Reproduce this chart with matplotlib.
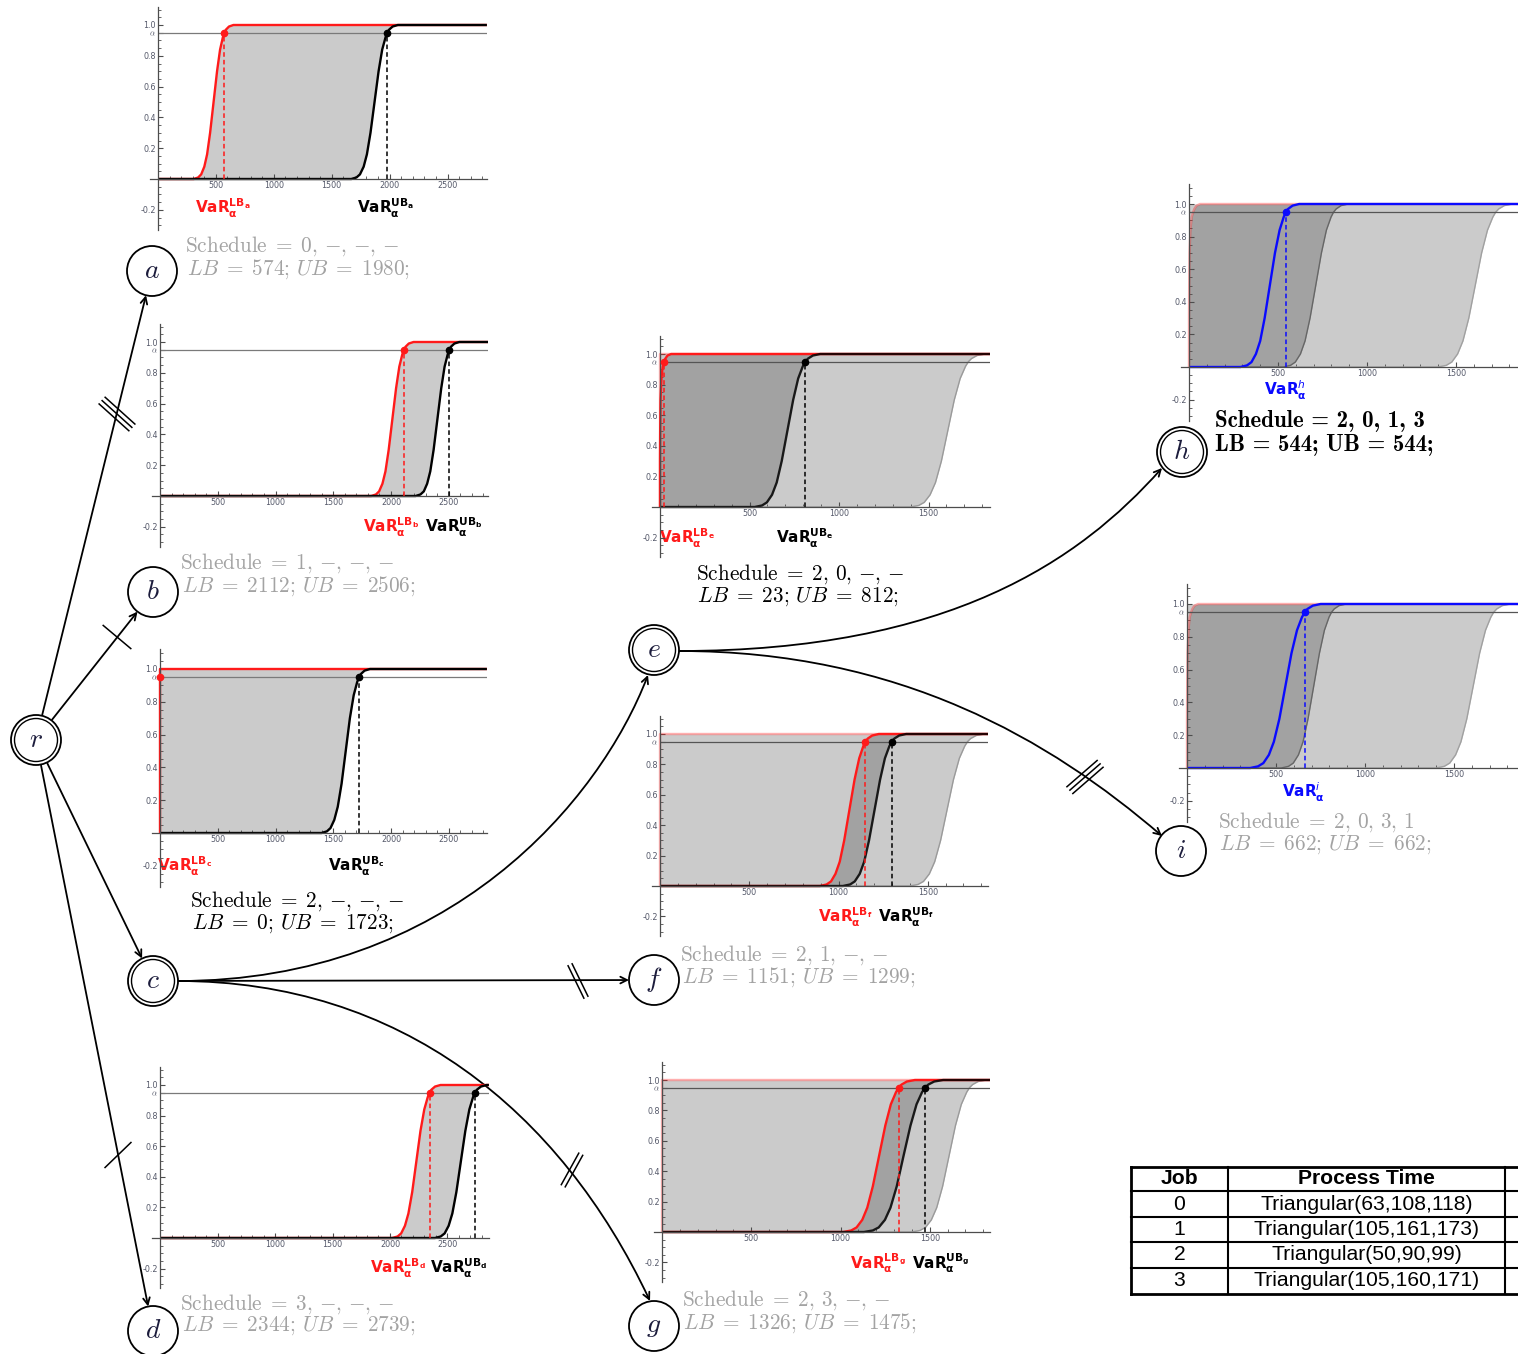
import numpy as np
import matplotlib.pyplot as plt
from matplotlib.patches import Circle, FancyArrowPatch
from matplotlib.path import Path

plt.rcParams['mathtext.fontset'] = 'cm'

p_levels = [0, 0.01, 0.03, 0.08, 0.16, 0.3, 0.5, 0.7, 0.84, 0.92, 0.95, 0.97, 0.99, 1.0]

# x position of each curve at those levels
a_lb = [309, 347, 373, 400, 424, 450, 480, 510, 536, 560, 574, 587, 613, 651]
a_ub = [1669, 1714, 1744, 1776, 1804, 1835, 1870, 1905, 1936, 1965, 1980, 1996, 2026, 2071]
b_lb = [1829, 1870, 1897, 1926, 1952, 1980, 2012, 2044, 2072, 2098, 2112, 2127, 2154, 2195]
b_ub = [2213, 2255, 2284, 2313, 2340, 2369, 2402, 2435, 2464, 2491, 2506, 2520, 2549, 2591]
c_lb = [0, 0, 0, 0, 0, 0, 0, 0, 0, 0, 0, 0, 0, 0]
c_ub = [1398, 1445, 1476, 1509, 1539, 1572, 1608, 1644, 1677, 1707, 1723, 1740, 1771, 1818]
d_lb = [2019, 2066, 2097, 2130, 2160, 2193, 2229, 2265, 2298, 2328, 2344, 2361, 2392, 2439]
d_ub = [2391, 2441, 2475, 2510, 2542, 2577, 2616, 2655, 2690, 2722, 2739, 2757, 2791, 2841]
e_lb = [0, 0, 0, 0, 0, 0, 1, 3, 8, 15, 23, 30, 42, 62]
e_ub = [529, 570, 597, 626, 652, 680, 712, 744, 772, 798, 812, 827, 854, 895]
f_lb = [896, 933, 958, 983, 1007, 1032, 1061, 1090, 1116, 1139, 1151, 1164, 1189, 1226]
f_ub = [1025, 1065, 1091, 1119, 1144, 1171, 1202, 1233, 1260, 1285, 1299, 1313, 1340, 1379]
g_lb = [1015, 1060, 1090, 1122, 1150, 1181, 1216, 1251, 1282, 1311, 1326, 1342, 1372, 1417]
g_ub = [1131, 1181, 1214, 1249, 1280, 1315, 1353, 1392, 1426, 1457, 1475, 1492, 1525, 1575]
h_cdf = [289, 326, 351, 376, 400, 425, 454, 483, 509, 532, 544, 557, 582, 619]
i_cdf = [355, 399, 429, 460, 488, 519, 553, 587, 618, 646, 662, 677, 707, 751]

alpha_level = 0.95

node_names = ['a', 'b', 'c', 'd', 'e', 'f', 'g', 'h', 'i']
schedules = [['0', '-', '-', '-'], ['1', '-', '-', '-'], ['2', '-', '-', '-'],
             ['3', '-', '-', '-'], ['2', '0', '-', '-'], ['2', '1', '-', '-'],
             ['2', '3', '-', '-'], ['2', '0', '1', '3'], ['2', '0', '3', '1']]
lb_values = [574, 2112, 0, 2344, 23, 1151, 1326, 544, 662]
ub_values = [1980, 2506, 1723, 2739, 812, 1299, 1475, 544, 662]

jobs = [0, 1, 2, 3]
tri_low = [63, 105, 50, 105]
tri_mode = [108, 161, 90, 160]
tri_high = [118, 173, 99, 171]

W, H = 1518, 1354
fig = plt.figure(figsize=(W / 100, H / 100), dpi=100)
bg = fig.add_axes([0, 0, 1, 1])
bg.set_xlim(0, W)
bg.set_ylim(H, 0)
bg.axis('off')

GRAY_TXT = '#a3a3a3'


def make_inset(ox, oy, sx, sy, xmax, xticks):
    pad = 8
    top = oy - 1.12 * sy
    h = 1.45 * sy
    w = pad + xmax * sx
    ax = fig.add_axes([(ox - pad) / W, 1 - (top + h) / H, w / W, h / H])
    ax.set_xlim(-pad / sx, xmax)
    ax.set_ylim(-0.33, 1.12)
    ax.patch.set_alpha(0)
    ax.spines['top'].set_visible(False)
    ax.spines['right'].set_visible(False)
    ax.spines['left'].set_position(('data', 0))
    ax.spines['bottom'].set_position(('data', 0))
    for s in ['left', 'bottom']:
        ax.spines[s].set_color('#4d4d4d')
        ax.spines[s].set_linewidth(0.9)
    ax.set_xticks(xticks)
    ax.set_xticklabels([str(t) for t in xticks])
    ax.set_xticks(np.arange(100, xmax, 100), minor=True)
    ax.set_yticks([-0.2, 0.2, 0.4, 0.6, 0.8, alpha_level, 1.0])
    ax.set_yticklabels(['-0.2', '0.2', '0.4', '0.6', '0.8', r'$\alpha$', '1.0'])
    ax.set_yticks(np.arange(-0.3, 1.11, 0.05), minor=True)
    ax.tick_params(which='both', direction='in', labelsize=5.8,
                   labelcolor='#55596a', color='#4d4d4d', pad=1.5)
    ax.tick_params(which='major', length=3.5, width=0.8)
    ax.tick_params(which='minor', length=2, width=0.6)
    return ax


def cdf_line(ax, xs, xmax, **kw):
    ax.plot([0] + xs + [xmax], [0] + p_levels + [1], solid_capstyle='butt',
            solid_joinstyle='round', **kw)


def var_mark(ax, x, color):
    ax.vlines(x, 0, alpha_level, colors=color, linestyles=(0, (3, 2)), lw=1.1)
    ax.plot(x, alpha_level, 'o', color=color, ms=4.5, zorder=5)


def var_label(x, y, sup, sub, color):
    if sub:
        s = r'$\mathbf{VaR}_{\mathbf{\alpha}}^{\mathbf{%s}_{\mathbf{%s}}}$' % (sup, sub)
    else:
        s = r'$\mathbf{VaR}_{\mathbf{\alpha}}^{%s}$' % sup
    bg.text(x, y, s, color=color, fontsize=11, math_fontfamily='dejavusans',
            ha='left', va='center')


LIGHT = '#cbcbcb'
DARK = '#a2a2a2'
X_LONG = [500, 1000, 1500, 2000, 2500]
X_SHORT = [500, 1000, 1500]

# ---- first level: a, b, c, d ----
first = [('a', (158, 179, 0.1158, 154, 2840), a_lb, a_ub, (195, 208), (357, 208)),
         ('b', (160, 496, 0.1155, 154, 2840), b_lb, b_ub, (363, 527), (425, 527)),
         ('c', (160, 833, 0.1155, 164, 2830), c_lb, c_ub, (157, 866), (328, 866)),
         ('d', (160, 1238, 0.1150, 153, 2860), d_lb, d_ub, (370, 1268), (430, 1268))]
for name, lay, lb, ub, lpos, upos in first:
    k = node_names.index(name)
    xmax = lay[4]
    ax = make_inset(*lay, X_LONG)
    ax.fill_betweenx(p_levels, lb, ub, color=LIGHT, lw=0)
    ax.hlines(alpha_level, 0, xmax, color='#7a7a7a', lw=0.9)
    cdf_line(ax, lb, xmax, color='#ff1a1a', lw=1.7)
    cdf_line(ax, ub, xmax, color='black', lw=1.7)
    var_mark(ax, lb_values[k], '#ff1a1a')
    var_mark(ax, ub_values[k], 'black')
    var_label(*lpos, 'LB', name, '#ff1a1a')
    var_label(*upos, 'UB', name, 'black')

# ---- second level: e, f, g (parent c shown behind) ----
second = [('e', (660, 507, 0.179, 153, 1845), e_lb, e_ub, (659, 538), (776, 538)),
          ('f', (660, 886, 0.1785, 152, 1840), f_lb, f_ub, (818, 917), (878, 917)),
          ('g', (662, 1232, 0.1785, 152, 1840), g_lb, g_ub, (850, 1263), (912, 1263))]
for name, lay, lb, ub, lpos, upos in second:
    k = node_names.index(name)
    xmax = lay[4]
    ax = make_inset(*lay, X_SHORT)
    ax.fill_betweenx(p_levels, c_lb, c_ub, color=LIGHT, lw=0)
    ax.fill_betweenx(p_levels, lb, ub, color=DARK, lw=0)
    cdf_line(ax, c_ub, xmax, color='#9a9a9a', lw=1.0)
    cdf_line(ax, c_lb, xmax, color='#ff1a1a', lw=1.7, alpha=0.35)
    ax.hlines(alpha_level, 0, xmax, color='#555555', lw=0.9)
    cdf_line(ax, lb, xmax, color='#ff1a1a', lw=1.7)
    cdf_line(ax, ub, xmax, color='black', lw=1.7, alpha=0.85)
    var_mark(ax, lb_values[k], '#ff1a1a')
    var_mark(ax, ub_values[k], 'black')
    var_label(*lpos, 'LB', name, '#ff1a1a')
    var_label(*upos, 'UB', name, 'black')

# ---- leaves: h, i (parents e and c shown behind) ----
leaves = [('h', (1189, 367, 0.178, 163, 1860), h_cdf, (1264, 390)),
          ('i', (1187, 768, 0.178, 164, 1860), i_cdf, (1282, 792))]
for name, lay, cdf, lpos in leaves:
    k = node_names.index(name)
    xmax = lay[4]
    ax = make_inset(*lay, X_SHORT)
    ax.fill_betweenx(p_levels, c_lb, c_ub, color=LIGHT, lw=0)
    ax.fill_betweenx(p_levels, e_lb, e_ub, color=DARK, lw=0)
    cdf_line(ax, c_ub, xmax, color='#a0a0a0', lw=1.0)
    cdf_line(ax, e_ub, xmax, color='#666666', lw=1.0)
    cdf_line(ax, e_lb, xmax, color='#ff1a1a', lw=1.7, alpha=0.35)
    ax.hlines(alpha_level, 0, xmax, color='#555555', lw=0.9)
    cdf_line(ax, cdf, xmax, color='#0a0aff', lw=1.7)
    var_mark(ax, lb_values[k], '#0a0aff')
    var_label(*lpos, name, None, '#0a0aff')

# ---- schedule / bound texts ----
text_pos = {'a': (185, 246, 187, 269), 'b': (180, 563, 182, 586),
            'c': (190, 901, 192, 924), 'd': (180, 1304, 182, 1326),
            'e': (696, 574, 697, 597), 'f': (680, 955, 682, 977),
            'g': (682, 1300, 683, 1323), 'h': (1215, 421, 1215, 445),
            'i': (1218, 822, 1219, 845)}
for k, name in enumerate(node_names):
    x1, y1, x2, y2 = text_pos[name]
    if name == 'h':
        s1 = 'Schedule = ' + ', '.join(schedules[k])
        s2 = 'LB = %d; UB = %d;' % (lb_values[k], ub_values[k])
        bg.text(x1, y1, s1, color='black', fontsize=16.5, family='cmb10', ha='left', va='center')
        bg.text(x2, y2, s2, color='black', fontsize=16.5, family='cmb10', ha='left', va='center')
        continue
    parts = [r'\mathrm{%s}' % v if v != '-' else r'\mathrm{-}' for v in schedules[k]]
    s1 = r'$\mathrm{Schedule}\;=\;' + r',\,'.join(parts) + '$'
    s2 = r'$LB\;=\;%d;\,UB\;=\;%d;$' % (lb_values[k], ub_values[k])
    col = 'black' if name in ('c', 'e') else GRAY_TXT
    bg.text(x1, y1, s1, color=col, fontsize=15.3, ha='left', va='center')
    bg.text(x2, y2, s2, color=col, fontsize=15.3, ha='left', va='center')

# ---- tree ----
node_xy = {'r': (36, 740), 'a': (152, 271), 'b': (153, 592), 'c': (153, 981),
           'd': (153, 1331), 'e': (654, 650), 'f': (654, 980), 'g': (654, 1326),
           'h': (1182, 452), 'i': (1181, 851)}
double = {'r', 'c', 'e', 'h'}
R = 25

for name, (x, y) in node_xy.items():
    bg.add_patch(Circle((x, y), R, facecolor='white', edgecolor='black', lw=1.3, zorder=4))
    if name in double:
        bg.add_patch(Circle((x, y), R - 3.5, facecolor='none', edgecolor='black', lw=1.0, zorder=4))
    bg.text(x, y - 1, r'$%s$' % name, fontsize=20, color='#1c1c3c', ha='center',
            va='center', zorder=5)


def straight(src, dst):
    (x0, y0), (x1, y1) = node_xy[src], node_xy[dst]
    d = np.hypot(x1 - x0, y1 - y0)
    ux, uy = (x1 - x0) / d, (y1 - y0) / d
    bg.add_patch(FancyArrowPatch((x0 + 26 * ux, y0 + 26 * uy), (x1 - R * ux, y1 - R * uy),
                                 arrowstyle='->', mutation_scale=12, lw=1.3,
                                 shrinkA=0, shrinkB=0, color='black', zorder=3))


def curved(p0, p1, p2, p3):
    path = Path([p0, p1, p2, p3], [Path.MOVETO, Path.CURVE4, Path.CURVE4, Path.CURVE4])
    bg.add_patch(FancyArrowPatch(path=path, arrowstyle='->', mutation_scale=12, lw=1.3,
                                 color='black', zorder=3))


def hash_mark(x, y, ang, n, length=36, gap=4.5):
    a = np.radians(ang)
    dx, dy = np.cos(a), np.sin(a)
    nx, ny = -dy, dx
    for j in range(n):
        off = (j - (n - 1) / 2) * gap
        cx, cy = x + off * nx, y + off * ny
        bg.plot([cx - dx * length / 2, cx + dx * length / 2],
                [cy - dy * length / 2, cy + dy * length / 2],
                color='black', lw=1.1, zorder=3)


for dst in ['a', 'b', 'c', 'd']:
    straight('r', dst)
straight('c', 'f')
curved((178, 981), (450, 981), (600, 800), (648, 675))
curved((178, 981), (400, 981), (560, 1110), (650, 1301))
curved((679, 651), (950, 651), (1080, 560), (1162, 468))
curved((679, 651), (900, 651), (1050, 740), (1162, 836))

hash_mark(117, 414, 42, 3, length=40)
hash_mark(117, 637, 40, 1)
hash_mark(118, 1155, -44, 1)
hash_mark(578, 981, 64, 2)
hash_mark(572, 1170, -61, 2)
hash_mark(1085, 777, -41, 3, length=40)

# ---- job table ----
col_x = [1131, 1228, 1505, 1530]
row_y = [1167, 1191, 1217, 1242, 1268, 1294]
for yy in row_y:
    lw = 2.0 if yy in (row_y[0], row_y[-1]) else 1.5
    bg.plot([col_x[0], col_x[-1]], [yy, yy], color='black', lw=lw, zorder=3)
for xx in col_x[:3]:
    lw = 2.0 if xx == col_x[0] else 1.5
    bg.plot([xx, xx], [row_y[0], row_y[-1]], color='black', lw=lw, zorder=3)
tfont = dict(family='Liberation Sans', fontsize=15.2, ha='center', va='center')
bg.text((col_x[0] + col_x[1]) / 2, (row_y[0] + row_y[1]) / 2, 'Job', weight='bold', **tfont)
bg.text((col_x[1] + col_x[2]) / 2, (row_y[0] + row_y[1]) / 2, 'Process Time', weight='bold', **tfont)
for j in range(len(jobs)):
    yc = (row_y[j + 1] + row_y[j + 2]) / 2
    bg.text((col_x[0] + col_x[1]) / 2, yc, str(jobs[j]), **tfont)
    bg.text((col_x[1] + col_x[2]) / 2, yc,
            'Triangular(%d,%d,%d)' % (tri_low[j], tri_mode[j], tri_high[j]), **tfont)

fig.savefig('out.png', dpi=100)
